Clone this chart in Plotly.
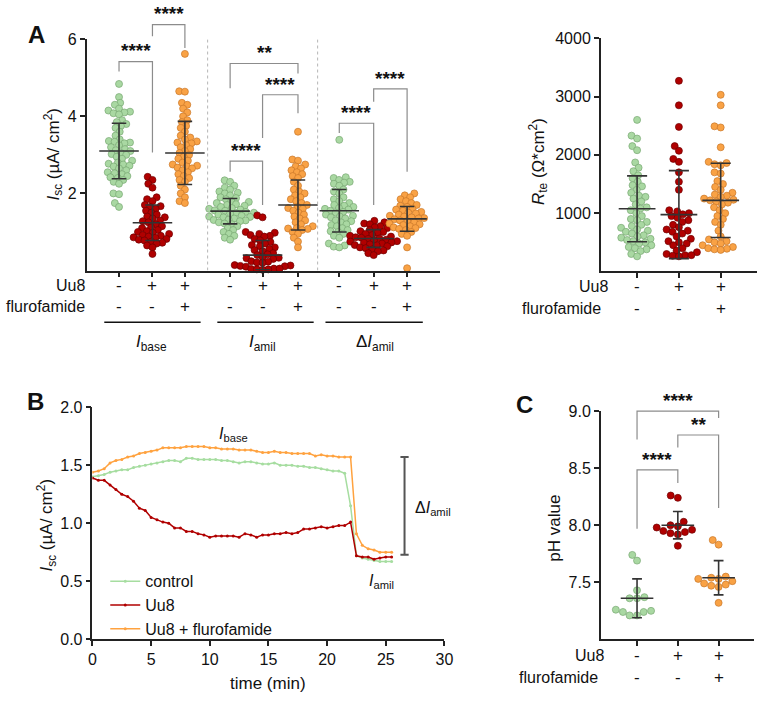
import math
import plotly.graph_objects as go

W, H = 769, 705
FONT = "Liberation Sans, Arial, Helvetica, sans-serif"

# ------------------------------------------------------------------ data
# Panel A (left): Isc (uA/cm2)
ibase_ctrl = [4.84, 4.5, 4.35, 4.3, 4.2, 4.15, 4.12, 4.1, 4.08, 4.05, 3.9, 3.85, 3.8, 3.75, 3.7, 3.6,
              3.5, 3.4, 3.36, 3.34, 3.32, 3.3, 3.25, 3.2, 3.15, 3.12, 3.1, 3.05, 3.02, 3.0, 2.95, 2.9,
              2.85, 2.8, 2.77, 2.75, 2.72, 2.7, 2.65, 2.6, 2.55, 2.52, 2.5, 2.45, 2.42, 2.4, 2.35, 2.3,
              2.25, 2.0, 1.98, 1.75, 1.65]
ibase_uu8 = [2.43, 2.35, 2.25, 2.15, 1.9, 1.85, 1.8, 1.7, 1.67, 1.65, 1.6, 1.55, 1.5, 1.45, 1.4, 1.38,
             1.35, 1.3, 1.28, 1.25, 1.2, 1.15, 1.12, 1.1, 1.05, 1.02, 1.0, 0.98, 0.95, 0.92, 0.9, 0.88,
             0.86, 0.85, 0.82, 0.8, 0.78, 0.75, 0.72, 0.7, 0.65, 0.6, 0.43]
ibase_flu = [5.62, 4.65, 4.64, 4.35, 4.3, 4.2, 4.1, 4.0, 3.9, 3.85, 3.75, 3.7, 3.6, 3.5, 3.45, 3.4,
             3.35, 3.32, 3.3, 3.25, 3.2, 3.15, 3.1, 3.05, 3.0, 2.95, 2.9, 2.85, 2.8, 2.75, 2.72, 2.7,
             2.67, 2.65, 2.6, 2.55, 2.5, 2.45, 2.4, 2.35, 2.3, 2.2, 2.1, 2.0, 1.9, 1.8, 1.75]
iamil_ctrl = [2.34, 2.3, 2.2, 2.15, 2.1, 2.05, 2.02, 2.0, 1.95, 1.9, 1.88, 1.85, 1.8, 1.78, 1.75, 1.72,
              1.7, 1.68, 1.65, 1.62, 1.6, 1.58, 1.56, 1.55, 1.52, 1.5, 1.49, 1.48, 1.45, 1.42, 1.4,
              1.39, 1.38, 1.35, 1.32, 1.31, 1.3, 1.28, 1.25, 1.22, 1.2, 1.15, 1.1, 1.05, 1.0, 0.95,
              0.9, 0.85, 0.8]
iamil_uu8 = [1.43, 1.38, 1.0, 0.98, 0.95, 0.92, 0.9, 0.88, 0.82, 0.78, 0.74, 0.7, 0.66, 0.63, 0.6,
             0.56, 0.53, 0.5, 0.45, 0.42, 0.4, 0.35, 0.33, 0.32, 0.3, 0.24, 0.23, 0.21, 0.2, 0.14,
             0.13, 0.12, 0.11, 0.1, 0.05, 0.05, 0.04, 0.03, 0.03, 0.02]
iamil_flu = [3.6, 2.88, 2.85, 2.75, 2.7, 2.65, 2.6, 2.55, 2.5, 2.45, 2.4, 2.3, 2.2, 2.1, 2.05, 2.0,
             1.95, 1.9, 1.85, 1.8, 1.75, 1.7, 1.65, 1.62, 1.6, 1.55, 1.5, 1.45, 1.4, 1.35, 1.3, 1.25,
             1.2, 1.15, 1.1, 1.09, 1.08, 1.05, 1.0, 0.95, 0.85, 0.75, 0.6]
diamil_ctrl = [3.39, 2.42, 2.4, 2.35, 2.3, 2.28, 2.25, 2.2, 2.1, 2.05, 2.0, 1.9, 1.85, 1.8, 1.75, 1.7,
               1.68, 1.65, 1.62, 1.6, 1.58, 1.55, 1.52, 1.5, 1.45, 1.42, 1.4, 1.38, 1.35, 1.3, 1.28,
               1.25, 1.2, 1.18, 1.15, 1.1, 1.05, 1.02, 1.0, 0.95, 0.9, 0.85, 0.7, 0.65, 0.62, 0.6]
diamil_uu8 = [1.29, 1.25, 1.22, 1.2, 1.15, 1.12, 1.1, 1.05, 1.02, 1.0, 0.98, 0.95, 0.92, 0.9, 0.88,
              0.86, 0.85, 0.83, 0.82, 0.8, 0.78, 0.76, 0.75, 0.73, 0.72, 0.7, 0.68, 0.66, 0.65, 0.63,
              0.6, 0.58, 0.55, 0.52, 0.5, 0.45, 0.4]
diamil_flu = [2.0, 1.95, 1.9, 1.85, 1.8, 1.75, 1.7, 1.68, 1.65, 1.6, 1.58, 1.55, 1.52, 1.5, 1.48, 1.45,
              1.42, 1.4, 1.38, 1.36, 1.35, 1.33, 1.3, 1.28, 1.25, 1.22, 1.2, 1.18, 1.15, 1.12, 1.1,
              1.08, 1.05, 1.0, 0.95, 0.9, 0.6, 0.06]
isc_groups = [ibase_ctrl, ibase_uu8, ibase_flu, iamil_ctrl, iamil_uu8, iamil_flu,
              diamil_ctrl, diamil_uu8, diamil_flu]
isc_means = [3.10, 1.24, 3.05, 1.54, 0.40, 1.70, 1.55, 0.83, 1.34]
isc_sds = [0.72, 0.46, 0.82, 0.33, 0.38, 0.65, 0.55, 0.23, 0.32]

# Panel A (right): Rte (Ohm*cm2)
rte_ctrl = [2600, 2330, 2280, 2150, 2080, 1870, 1780, 1720, 1650, 1600, 1540, 1480, 1460, 1400, 1350,
            1300, 1280, 1250, 1200, 1150, 1100, 1080, 1050, 1000, 950, 900, 880, 850, 800, 780, 750,
            720, 700, 680, 650, 620, 600, 580, 560, 540, 520, 500, 480, 450, 420, 400, 380, 350, 300, 260]
rte_uu8 = [3270, 2850, 2480, 2150, 2070, 1930, 1880, 1700, 1540, 1400, 1050, 1030, 1000, 980, 950, 920,
           880, 850, 800, 760, 720, 700, 680, 650, 600, 560, 520, 500, 480, 450, 400, 360, 330, 300,
           280, 280, 270, 260]
rte_flu = [3030, 2850, 2490, 2470, 2130, 1880, 1860, 1840, 1820, 1700, 1680, 1550, 1500, 1450, 1400,
           1350, 1320, 1300, 1280, 1250, 1230, 1220, 1200, 1180, 1150, 1100, 1050, 1000, 950, 900, 850,
           800, 700, 600, 550, 520, 500, 480, 450, 420, 400, 390, 380, 370]
rte_groups = [rte_ctrl, rte_uu8, rte_flu]
rte_means = [1075, 975, 1220]
rte_sds = [565, 755, 637]

# Panel B: time course
time_min = [0, 0.5, 1, 1.5, 2, 2.5, 3, 3.5, 4, 4.5, 5, 5.5, 6, 6.5, 7, 7.5, 8, 8.5, 9, 9.5, 10, 10.5,
            11, 11.5, 12, 12.5, 13, 13.5, 14, 14.5, 15, 15.5, 16, 16.5, 17, 17.5, 18, 18.5, 19, 19.5,
            20, 20.5, 21, 21.5, 22, 22.5, 23, 23.5, 24, 24.5, 25, 25.5]
isc_control = [1.40, 1.41, 1.42, 1.44, 1.45, 1.46, 1.46, 1.48, 1.49, 1.50, 1.51, 1.52, 1.53, 1.54, 1.54,
               1.53, 1.56, 1.56, 1.55, 1.55, 1.55, 1.55, 1.54, 1.54, 1.53, 1.52, 1.53, 1.53, 1.52, 1.51,
               1.51, 1.52, 1.50, 1.50, 1.50, 1.49, 1.49, 1.48, 1.48, 1.47, 1.46, 1.45, 1.45, 1.43, 1.15,
               0.72, 0.70, 0.69, 0.68, 0.67, 0.67, 0.67]
isc_uu8 = [1.39, 1.37, 1.37, 1.33, 1.29, 1.25, 1.23, 1.19, 1.13, 1.11, 1.05, 1.03, 1.01, 1.00, 0.96, 0.96,
           0.93, 0.93, 0.91, 0.90, 0.88, 0.89, 0.89, 0.89, 0.89, 0.88, 0.91, 0.90, 0.88, 0.90, 0.90, 0.91,
           0.91, 0.92, 0.91, 0.92, 0.95, 0.95, 0.96, 0.97, 0.96, 0.97, 0.98, 0.98, 1.01, 0.72, 0.71, 0.71,
           0.69, 0.70, 0.71, 0.71]
isc_uu8_flu = [1.44, 1.45, 1.47, 1.52, 1.54, 1.55, 1.57, 1.58, 1.60, 1.61, 1.62, 1.63, 1.65, 1.65, 1.65,
               1.65, 1.66, 1.66, 1.66, 1.66, 1.65, 1.65, 1.64, 1.64, 1.64, 1.63, 1.63, 1.63, 1.62, 1.61,
               1.61, 1.62, 1.61, 1.61, 1.60, 1.60, 1.60, 1.60, 1.58, 1.59, 1.58, 1.58, 1.57, 1.57, 1.57,
               0.91, 0.81, 0.78, 0.77, 0.75, 0.75, 0.75]
delta_bar = [0.73, 1.57]   # amiloride-sensitive current span

# Panel C: pH
ph_ctrl = [7.74, 7.69, 7.43, 7.37, 7.36, 7.36, 7.26, 7.25, 7.24, 7.24, 7.21, 7.21]
ph_uu8 = [8.26, 8.24, 8.03, 8.00, 7.99, 7.98, 7.96, 7.95, 7.94, 7.93, 7.92, 7.82]
ph_flu = [7.87, 7.83, 7.55, 7.54, 7.53, 7.53, 7.51, 7.49, 7.48, 7.47, 7.46, 7.32]
ph_groups = [ph_ctrl, ph_uu8, ph_flu]
ph_means = [7.36, 8.00, 7.54]
ph_sds = [0.17, 0.12, 0.15]

uu8_row = ["-", "+", "+"]
flu_row = ["-", "-", "+"]
group_labels = ["<i>I</i><sub>base</sub>", "<i>I</i><sub>amil</sub>", "Δ<i>I</i><sub>amil</sub>"]
series_names = ["control", "Uu8", "Uu8 + flurofamide"]

# ------------------------------------------------------------------ styles
FILL = ["#a9d8a2", "#b00000", "#f9a245"]
EDGE = ["#78a872", "#6e0000", "#c9772a"]
LINEC = ["#a6dda0", "#b00000", "#ffa23f"]
AXC = "#222222"
BRC = "#8c8c8c"

# pixel boxes of the four plot areas (left, right, top, bottom)
BOX = {
    "A1": (84, 443, 32, 269),
    "A2": (607, 766, 31, 270),
    "B": (90, 448, 409, 647),
    "C": (607, 763, 413, 647),
}
POS_A = [0, 1.015, 2.0, 3.373, 4.358, 5.433, 6.687, 7.731, 8.746]
XR = {"A1": [-0.985, 9.73], "A2": [-0.87, 2.87], "B": [0, 30], "C": [-0.89, 2.87]}
YR = {"A1": [0, 6], "A2": [0, 4000], "B": [0, 2], "C": [7, 9]}
AXN = {"A1": ("x", "y"), "A2": ("x2", "y2"), "B": ("x3", "y3"), "C": ("x4", "y4")}


def fx(px):
    return px / W


def fy(py):
    return 1 - py / H


def dom(k):
    l, r, t, b = BOX[k]
    return [fx(l), fx(r)], [fy(b), fy(t)]


def ppx(k):
    l, r, t, b = BOX[k]
    return (r - l) / (XR[k][1] - XR[k][0])


def ppy(k):
    l, r, t, b = BOX[k]
    return (b - t) / (YR[k][1] - YR[k][0])


def to_paper(k, xv, yv):
    dx, dy = dom(k)
    px_ = dx[0] + (xv - XR[k][0]) / (XR[k][1] - XR[k][0]) * (dx[1] - dx[0])
    py_ = dy[0] + (yv - YR[k][0]) / (YR[k][1] - YR[k][0]) * (dy[1] - dy[0])
    return px_, py_


def swarm(vals, py_unit, px_unit, d):
    idx = sorted(range(len(vals)), key=lambda i: vals[i])
    placed = []
    offs = [0.0] * len(vals)
    for i in idx:
        y = vals[i] * py_unit
        forb = []
        for (qx, qy) in placed:
            dy = abs(qy - y)
            if dy < d:
                dx = math.sqrt(d * d - dy * dy)
                forb.append((qx - dx, qx + dx))
        cands = [0.0] + [a for a, b in forb] + [b for a, b in forb]
        cands.sort(key=lambda c: (abs(c), c))
        x = 0.0
        for c in cands:
            if all(not (a + 1e-6 < c < b - 1e-6) for a, b in forb):
                x = c
                break
        placed.append((x, y))
        offs[i] = x / px_unit
    return offs


fig = go.Figure()


def add_dots(k, groups, positions, means, sds, size, d, hw, cw):
    xa, ya = AXN[k]
    for gi, vals in enumerate(groups):
        ci = gi % 3
        offs = swarm(vals, ppy(k), ppx(k), d)
        fig.add_trace(go.Scatter(
            x=[positions[gi] + o for o in offs], y=vals, mode="markers",
            marker=dict(size=size, color=FILL[ci], line=dict(color=EDGE[ci], width=0.7)),
            xaxis=xa, yaxis=ya, showlegend=False, hoverinfo="skip", cliponaxis=False))
    for gi in range(len(groups)):
        xc, m, s = positions[gi], means[gi], sds[gi]
        xs = [xc - hw, xc + hw, None, xc, xc, None, xc - cw, xc + cw, None, xc - cw, xc + cw]
        ys = [m, m, None, m - s, m + s, None, m + s, m + s, None, m - s, m - s]
        fig.add_trace(go.Scatter(x=xs, y=ys, mode="lines", line=dict(color="#333333", width=1.6),
                                 xaxis=xa, yaxis=ya, showlegend=False, hoverinfo="skip"))


add_dots("A1", isc_groups, POS_A, isc_means, isc_sds, 7, 5.8, 0.6, 0.22)
add_dots("A2", rte_groups, [0, 1, 2], rte_means, rte_sds, 7, 6.4, 0.44, 0.24)
add_dots("C", ph_groups, [0, 1, 2], ph_means, ph_sds, 7, 7.6, 0.4, 0.12)

# Panel B lines
for ci, ys in enumerate([isc_control, isc_uu8, isc_uu8_flu]):
    fig.add_trace(go.Scatter(
        x=time_min, y=ys, mode="lines+markers", name=series_names[ci],
        line=dict(color=LINEC[ci], width=1.5), marker=dict(size=3, color=LINEC[ci]),
        xaxis="x3", yaxis="y3", showlegend=True, hoverinfo="skip"))

shapes = []
annotations = []


def ann(x, y, text, size=15, xanchor="center", yanchor="middle", xref="paper", yref="paper",
        angle=0, bold=False, color="#111111"):
    if bold:
        text = "<b>" + text + "</b>"
    annotations.append(dict(x=x, y=y, text=text, xref=xref, yref=yref, xanchor=xanchor,
                            yanchor=yanchor, showarrow=False, textangle=angle,
                            font=dict(family=FONT, size=size, color=color)))


def bracket(k, positions, i1, i2, ytop, yl, yr, stars, star_dy=11):
    x1, _ = to_paper(k, positions[i1], 0)
    x2, _ = to_paper(k, positions[i2], 0)
    _, pt = to_paper(k, 0, ytop)
    _, pl = to_paper(k, 0, yl)
    _, pr = to_paper(k, 0, yr)
    shapes.append(dict(type="path", xref="paper", yref="paper",
                       path=f"M {x1},{pl} L {x1},{pt} L {x2},{pt} L {x2},{pr}",
                       line=dict(color=BRC, width=1.2)))
    ann((x1 + x2) / 2, pt + star_dy / H, stars, size=19, bold=True)


# Panel A brackets
bracket("A1", POS_A, 0, 1, 5.42, 5.16, 3.06, "****")
bracket("A1", POS_A, 1, 2, 6.38, 6.08, 5.77, "****")
bracket("A1", POS_A, 3, 5, 5.37, 4.73, 5.11, "**")
bracket("A1", POS_A, 4, 5, 4.56, 3.44, 4.08, "****")
bracket("A1", POS_A, 3, 4, 2.84, 2.56, 1.70, "****")
bracket("A1", POS_A, 6, 7, 3.82, 3.57, 1.70, "****")
bracket("A1", POS_A, 7, 8, 4.71, 4.38, 2.56, "****")
# Panel C brackets
bracket("C", [0, 1, 2], 0, 1, 8.485, 7.97, 8.37, "****")
bracket("C", [0, 1, 2], 1, 2, 8.79, 8.68, 8.15, "**")
bracket("C", [0, 1, 2], 0, 2, 9.0, 8.75, 8.94, "****")

# dotted separators in A
for xs in [2.69, 6.03]:
    shapes.append(dict(type="line", xref="x", yref="y", x0=xs, x1=xs, y0=0, y1=6,
                       line=dict(color="#b5b5b5", width=1, dash="dot")))

# delta bar in B
t_bar = 26.6
shapes.append(dict(type="line", xref="x3", yref="y3", x0=t_bar, x1=t_bar, y0=delta_bar[0], y1=delta_bar[1],
                   line=dict(color="#555555", width=2)))
for yv in delta_bar:
    shapes.append(dict(type="line", xref="x3", yref="y3", x0=t_bar - 0.35, x1=t_bar + 0.35, y0=yv, y1=yv,
                       line=dict(color="#555555", width=2)))


# rows of +/- under panels
def rows(k, positions, uu_y, fl_y, uu_right, fl_right):
    xa, _ = AXN[k]
    ann(fx(uu_right), fy(uu_y), "Uu8", size=16, xanchor="right")
    ann(fx(fl_right), fy(fl_y), "flurofamide", size=16, xanchor="right")
    for gi, xp in enumerate(positions):
        ann(xp, fy(uu_y), uu8_row[gi % 3], size=17, xref=xa)
        ann(xp, fy(fl_y), flu_row[gi % 3], size=17, xref=xa)


rows("A1", POS_A, 284, 306, 84, 84)
rows("A2", [0, 1, 2], 285, 308, 616, 609)
rows("C", [0, 1, 2], 663, 686, 612, 606)

# group underlines and labels in A
for (x0p, x1p), lab, cx in zip([(102, 200), (217, 315), (327, 426)], group_labels, [150, 263, 377]):
    shapes.append(dict(type="line", xref="paper", yref="paper", x0=fx(x0p), x1=fx(x1p),
                       y0=fy(322), y1=fy(322), line=dict(color="#111111", width=1.3)))
    ann(fx(cx), fy(343), lab, size=17)

# axis titles
ann(fx(50), fy(150), "<i>I</i><sub>sc</sub> (µA/ cm<sup>2</sup>)", size=17, angle=-90)
ann(fx(543), fy(157), "<i>R</i><sub>te</sub> (Ω*cm<sup>2</sup>)", size=17, angle=-90)
ann(fx(43), fy(530), "<i>I</i><sub>sc</sub> (µA/ cm<sup>2</sup>)", size=17, angle=-90)
ann(fx(560), fy(533), "pH value", size=17, angle=-90)
ann(fx(269), fy(692), "time (min)", size=17)

# panel letters
ann(fx(33), fy(27), "A", size=24, bold=True)
ann(fx(32), fy(403), "B", size=24, bold=True)
ann(fx(529), fy(406), "C", size=24, bold=True)

# labels inside B
ann(12.0, 1.765, "<i>I</i><sub>base</sub>", size=16, xref="x3", yref="y3")
ann(24.6, 0.50, "<i>I</i><sub>amil</sub>", size=16, xref="x3", yref="y3")
ann(27.3, 1.13, "Δ<i>I</i><sub>amil</sub>", size=16, xref="x3", yref="y3", xanchor="left")


def axis_common(**kw):
    d = dict(showgrid=False, zeroline=False, showline=True, linecolor=AXC, linewidth=1.5,
             ticks="outside", ticklen=5, tickwidth=1.5, tickcolor=AXC,
             tickfont=dict(family=FONT, size=16, color="#111111"), fixedrange=True)
    d.update(kw)
    return d


layout_axes = {}
for k, (xa, ya) in AXN.items():
    dx, dy = dom(k)
    xname = "xaxis" if xa == "x" else "xaxis" + xa[1:]
    yname = "yaxis" if ya == "y" else "yaxis" + ya[1:]
    xkw = dict(domain=dx, range=XR[k], anchor=ya)
    ykw = dict(domain=dy, range=YR[k], anchor=xa)
    if k == "A1":
        xkw.update(tickvals=POS_A, showticklabels=False)
        ykw.update(tickvals=[2, 4, 6])
    elif k == "A2":
        xkw.update(tickvals=[0, 1, 2], showticklabels=False)
        ykw.update(tickvals=[1000, 2000, 3000, 4000])
    elif k == "B":
        xkw.update(tickvals=[0, 5, 10, 15, 20, 25, 30])
        ykw.update(tickvals=[0, 0.5, 1.0, 1.5, 2.0], tickformat=".1f")
    else:
        xkw.update(tickvals=[0, 1, 2], showticklabels=False)
        ykw.update(tickvals=[7.5, 8.0, 8.5, 9.0], tickformat=".1f")
    layout_axes[xname] = axis_common(**xkw)
    layout_axes[yname] = axis_common(**ykw)

fig.update_layout(
    width=W, height=H, autosize=False,
    margin=dict(l=0, r=0, t=0, b=0),
    paper_bgcolor="white", plot_bgcolor="white",
    font=dict(family=FONT, size=15, color="#111111"),
    showlegend=True,
    legend=dict(x=fx(103), y=fy(570), xanchor="left", yanchor="top",
                bgcolor="rgba(0,0,0,0)", font=dict(family=FONT, size=16),
                tracegroupgap=0, itemwidth=30),
    shapes=shapes, annotations=annotations,
    **layout_axes,
)

fig.write_html("out.html")
